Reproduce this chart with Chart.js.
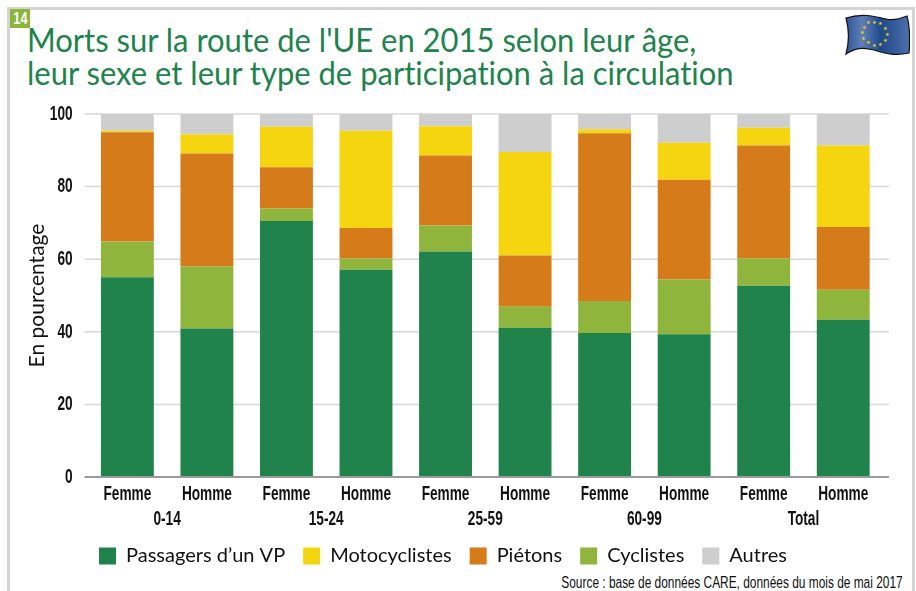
<!DOCTYPE html>
<html>
<head>
<meta charset="utf-8">
<script src="https://cdn.jsdelivr.net/npm/chart.js@4/dist/chart.umd.min.js"></script>
<style>
  html, body { margin: 0; padding: 0; background: #fff; overflow: hidden; }
  #page { position: relative; width: 916px; height: 591px; overflow: hidden; }
  #frame { position: absolute; left: 7px; top: 7px; width: 902px; height: 600px; border: 3px solid #d4d4d4; }
  #badge { position: absolute; left: 10px; top: 9px; width: 20px; height: 19px; background: #8db53a; color: #fff;
    font: bold 17px "Liberation Sans"; text-align: center; line-height: 19px; }
  #badge span { display: inline-block; transform: scaleX(0.75); }
  #title { position: absolute; left: 27px; top: 23px; color: #20834c; font: 32.5px/33px Lato; white-space: nowrap;
    font-variant-ligatures: none; transform: scaleX(0.953); transform-origin: left top; }
  #source { position: absolute; right: 13px; top: 573px; color: #111; font: 17px "Liberation Sans"; white-space: nowrap;
    transform: scaleX(0.70); transform-origin: right top; }
  #flag { position: absolute; left: 844px; top: 13px; }
  canvas { position: absolute; left: 0; top: 0; }
</style>
</head>
<body>
<div id="page">
  <div id="frame"></div>
  <div id="badge"><span>14</span></div>
  <div id="title">Morts sur la route de l'UE en 2015 selon leur âge,<br>leur sexe et leur type de participation à la circulation</div>
  <svg id="flag" width="66" height="44" viewBox="0 0 66 44">
    <defs>
      <linearGradient id="blue" x1="0" x2="1" y1="0" y2="0">
        <stop offset="0" stop-color="#2f5597"/>
        <stop offset="0.25" stop-color="#5f7fb8"/>
        <stop offset="0.55" stop-color="#1f4a8a"/>
        <stop offset="1" stop-color="#4d70aa"/>
      </linearGradient>
    </defs>
    <path d="M2 5 C18 0 30 3 42 6 C50 8 58 5 63 3 C66 14 66 28 65 40 C52 43 42 41 30 37 C20 34 10 35 2 41 C5 30 5 16 2 5 Z" fill="url(#blue)" stroke="#111" stroke-width="1.2"/>
    <g fill="#f4d50f" font-size="5" text-anchor="middle">
      <text x="24" y="11">★</text><text x="30" y="11">★</text><text x="36" y="12">★</text>
      <text x="41" y="17">★</text><text x="43" y="23">★</text><text x="41" y="29">★</text>
      <text x="36" y="33">★</text><text x="30" y="34">★</text><text x="24" y="31">★</text>
      <text x="19" y="27">★</text><text x="18" y="21">★</text><text x="20" y="16">★</text>
    </g>
  </svg>
  <div id="source">Source : base de données CARE, données du mois de mai 2017</div>
  <canvas id="chart" width="916" height="591"></canvas>
</div>
<script>
var categories = ['Femme', 'Homme', 'Femme', 'Homme', 'Femme', 'Homme', 'Femme', 'Homme', 'Femme', 'Homme'];
var ageGroups = ['0-14', '15-24', '25-59', '60-99', 'Total'];
var passagers = [55, 40.9, 70.5, 57.1, 62.1, 41.1, 39.7, 39.3, 52.7, 43.3];
var cyclistes = [9.9, 17.1, 3.5, 3.1, 7.2, 5.8, 8.8, 15.1, 7.5, 8.3];
var pietons = [30.1, 31.1, 11.3, 8.4, 19.3, 14.1, 46.2, 27.5, 31.1, 17.3];
var motocyclistes = [0.4, 5.3, 11.2, 26.8, 8, 28.5, 1.1, 10.2, 4.9, 22.4];
var autres = [4.6, 5.6, 3.5, 4.6, 3.4, 10.5, 4.2, 7.9, 3.8, 8.7];
var legendOrder = ["Passagers d’un VP", 'Motocyclistes', 'Piétons', 'Cyclistes', 'Autres'];

// lines run a bit past the plot on both sides, grid options can't do that
var axisLines = {
  id: 'axisLines',
  beforeDatasetsDraw: function (chart) {
    var c = chart.ctx, y = chart.scales.y, a = chart.chartArea;
    c.save();
    c.lineWidth = 1.5;
    c.strokeStyle = '#d8d8d8';
    y.ticks.forEach(function (t) {
      if (t.value === 0) return;
      c.beginPath();
      c.moveTo(a.left - 3, y.getPixelForValue(t.value));
      c.lineTo(a.right + 6, y.getPixelForValue(t.value));
      c.stroke();
    });
    c.restore();
  },
  afterDatasetsDraw: function (chart) {
    var c = chart.ctx, y = chart.scales.y, a = chart.chartArea;
    c.save();
    c.lineWidth = 2;
    c.strokeStyle = '#9a9a9a';
    c.beginPath();
    c.moveTo(a.left - 3, y.getPixelForValue(0));
    c.lineTo(a.right + 6, y.getPixelForValue(0));
    c.stroke();
    c.restore();
  }
};

// no condensed font installed, so squeeze the bold tick labels
var narrowTicks = {
  id: 'narrowTicks',
  beforeDraw: function (chart) {
    var c = chart.ctx;
    if (c.plainFillText) return;
    c.plainFillText = c.fillText;
    c.fillText = function (text, x, y, maxWidth) {
      if (this.font.indexOf('bold') === 0) {
        this.plainFillText(text, x, y, this.measureText(text).width * 0.65);
      } else if (maxWidth) {
        this.plainFillText(text, x, y, maxWidth);
      } else {
        this.plainFillText(text, x, y);
      }
    };
  }
};

// legend sits left of centre in the original
var moveLegend = {
  id: 'moveLegend',
  afterLayout: function (chart) {
    chart.legend.left -= 10;
    chart.legend.right -= 10;
    chart.legend.top -= 5;
    chart.legend.bottom -= 5;
  }
};

var tickFont = { family: 'Liberation Sans', size: 21, weight: 'bold' };

var ctx = document.getElementById('chart').getContext('2d');
new Chart(ctx, {
  type: 'bar',
  data: {
    labels: categories,
    datasets: [
      { label: "Passagers d’un VP", data: passagers, backgroundColor: '#20834c' },
      { label: 'Cyclistes', data: cyclistes, backgroundColor: '#8fb53d' },
      { label: 'Piétons', data: pietons, backgroundColor: '#d67b1a' },
      { label: 'Motocyclistes', data: motocyclistes, backgroundColor: '#f5d50f' },
      { label: 'Autres', data: autres, backgroundColor: '#cecece' }
    ]
  },
  plugins: [axisLines, narrowTicks, moveLegend],
  options: {
    responsive: false,
    animation: false,
    layout: { padding: { left: 23, right: 33, top: 114, bottom: 10 } },
    datasets: { bar: { categoryPercentage: 1, barPercentage: 0.665 } },
    scales: {
      x: {
        stacked: true,
        grid: { display: false, drawTicks: false },
        border: { display: false },
        afterFit: function (s) { s.height = 30; },
        ticks: { color: '#111', font: tickFont, padding: 5, maxRotation: 0, autoSkip: false }
      },
      x2: {
        type: 'category',
        labels: ageGroups,
        position: 'bottom',
        grid: { display: false, drawTicks: false },
        border: { display: false },
        afterFit: function (s) { s.height = 26; },
        ticks: { color: '#111', font: tickFont, padding: 0, maxRotation: 0, autoSkip: false }
      },
      y: {
        stacked: true,
        min: 0,
        max: 100,
        grid: { display: false, drawTicks: false },
        border: { display: false },
        afterFit: function (s) { s.width = 64.6; },
        title: { display: true, text: 'En pourcentage', color: '#111', font: { family: 'Lato', size: 21 }, padding: 2 },
        ticks: { stepSize: 20, color: '#111', font: tickFont, padding: 15 }
      }
    },
    plugins: {
      tooltip: { enabled: false },
      legend: {
        position: 'bottom',
        labels: {
          boxWidth: 17, boxHeight: 17, padding: 18, color: '#111', font: { family: 'Lato', size: 20 },
          sort: function (a, b) { return legendOrder.indexOf(a.text) - legendOrder.indexOf(b.text); }
        }
      }
    }
  }
});
</script>
</body>
</html>
